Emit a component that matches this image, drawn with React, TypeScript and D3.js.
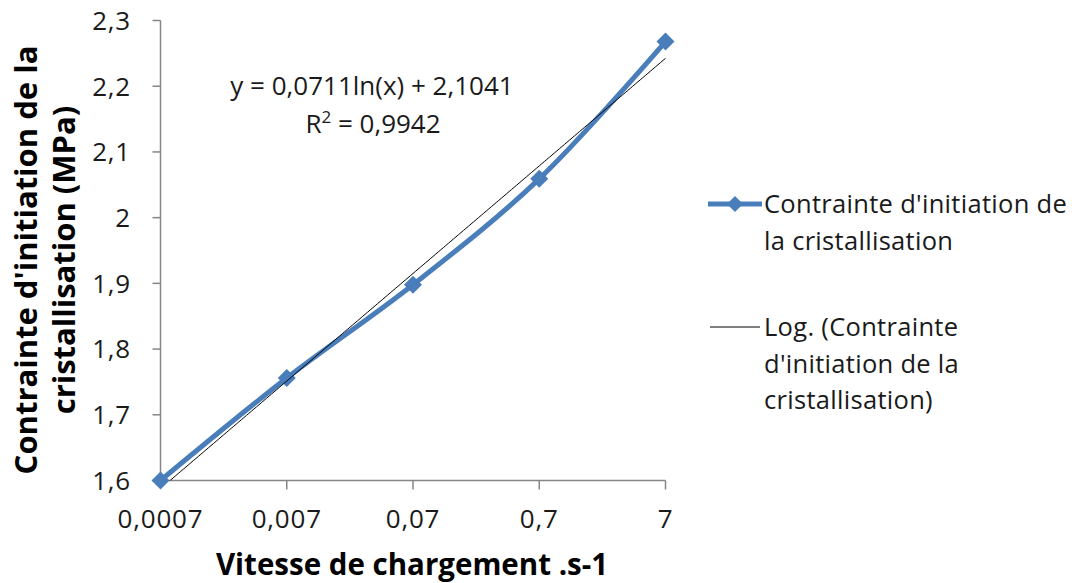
import React from "react";
import * as d3 from "d3";

const xValues = [0.0007, 0.007, 0.07, 0.7, 7];
const yValues = [1.6, 1.756, 1.898, 2.059, 2.268];
const xTicks = [0.0007, 0.007, 0.07, 0.7, 7];
const xTickLabels = ["0,0007", "0,007", "0,07", "0,7", "7"];
const yTicks = [1.6, 1.7, 1.8, 1.9, 2.0, 2.1, 2.2, 2.3];
const yTickLabels = ["1,6", "1,7", "1,8", "1,9", "2", "2,1", "2,2", "2,3"];
const trendA = 0.0711;
const trendB = 2.1041;
const seriesName = ["Contrainte d'initiation de", "la cristallisation"];
const trendName = ["Log. (Contrainte", "d'initiation de la", "cristallisation)"];

const W = 1075, H = 583;
const left = 160.5, right = 665.5, top = 20.5, bottom = 480.5;
const FONT = "'Open Sans', sans-serif";
const BLUE = "#4a7ebb";
const TXT = "#1a1a1a";

export default function App() {
  const x = d3.scaleLog().domain([0.0007, 7]).range([left, right]);
  const y = d3.scaleLinear().domain([1.6, 2.3]).range([bottom, top]);

  const line = d3
    .line<number>()
    .x((_, i) => x(xValues[i]))
    .y((d) => y(d))
    .curve(d3.curveCatmullRom.alpha(0.5));

  const trendPts: [number, number][] = [];
  const n = 200;
  for (let i = 0; i <= n; i++) {
    const lx = Math.log10(0.0007) + (i / n) * (Math.log10(7) - Math.log10(0.0007));
    const xv = Math.pow(10, lx);
    trendPts.push([x(xv), y(trendA * Math.log(xv) + trendB)]);
  }
  const trendPath = d3.line()(trendPts) || "";

  const diamond = (cx: number, cy: number, r: number) =>
    `M${cx},${cy - r}L${cx + r},${cy}L${cx},${cy + r}L${cx - r},${cy}Z`;

  return (
    <svg width={W} height={H} style={{ position: "absolute", left: 0, top: 0, background: "#fff" }}>
      <defs>
        <clipPath id="plot">
          <rect x={left} y={top - 10} width={right - left + 20} height={bottom - top + 10} />
        </clipPath>
      </defs>
      {/* y axis */}
      <line x1={left} x2={left} y1={top} y2={bottom} stroke="#868686" strokeWidth={1.5} />
      {yTicks.map((t, i) => (
        <g key={"yt" + i}>
          <line x1={left - 8} x2={left} y1={y(t)} y2={y(t)} stroke="#868686" strokeWidth={1.5} />
          <text x={131} y={y(t)} dy="0.36em" textAnchor="end" fontFamily={FONT} fontSize={26} letterSpacing={0.8} fill={TXT}>
            {yTickLabels[i]}
          </text>
        </g>
      ))}
      {/* x axis */}
      <line x1={left} x2={right} y1={bottom} y2={bottom} stroke="#868686" strokeWidth={1.5} />
      {xTicks.map((t, i) => (
        <g key={"xt" + i}>
          {i > 0 && <line x1={x(t)} x2={x(t)} y1={bottom} y2={bottom + 9} stroke="#868686" strokeWidth={1.5} />}
          <text x={x(t)} y={bottom + 47} textAnchor="middle" fontFamily={FONT} fontSize={26} letterSpacing={0.8} fill={TXT}>
            {xTickLabels[i]}
          </text>
        </g>
      ))}
      {/* series */}
      <path d={line(yValues) || ""} fill="none" stroke={BLUE} strokeWidth={5} strokeLinejoin="round" />
      {yValues.map((v, i) => (
        <path key={"m" + i} d={diamond(x(xValues[i]), y(v), 9)} fill={BLUE} />
      ))}
      {/* trend */}
      <g clipPath="url(#plot)">
        <path d={trendPath} fill="none" stroke="#000" strokeWidth={1} />
      </g>
      {/* equation */}
      <text x={372} y={95} textAnchor="middle" fontFamily={FONT} fontSize={26} fill={TXT}>
        y = 0,0711ln(x) + 2,1041
      </text>
      <text x={373} y={133} textAnchor="middle" fontFamily={FONT} fontSize={26} fill={TXT}>
        R<tspan dy={-10} fontSize={17}>2</tspan>
        <tspan dy={10}> = 0,9942</tspan>
      </text>
      {/* axis titles */}
      <text x={412} y={575} textAnchor="middle" fontFamily={FONT} fontSize={29.5} fontWeight="bold" fill="#000">
        Vitesse de chargement .s-1
      </text>
      <g transform="translate(37,260) rotate(-90)">
        <text x={0} y={0} textAnchor="middle" fontFamily={FONT} fontSize={31} fontWeight="bold" fill="#000">
          Contrainte d'initiation de la
        </text>
        <text x={0} y={38} textAnchor="middle" fontFamily={FONT} fontSize={31} fontWeight="bold" fill="#000">
          cristallisation (MPa)
        </text>
      </g>
      {/* legend */}
      <line x1={708} x2={762} y1={204} y2={204} stroke={BLUE} strokeWidth={5} />
      <path d={diamond(735, 204, 8)} fill={BLUE} />
      {seriesName.map((s, i) => (
        <text key={"s" + i} x={764} y={204 + i * 37} dy="0.36em" fontFamily={FONT} fontSize={25.5} letterSpacing={0.3} fill={TXT}>
          {s}
        </text>
      ))}
      <line x1={710} x2={760} y1={327} y2={327} stroke="#000" strokeWidth={1} />
      {trendName.map((s, i) => (
        <text key={"t" + i} x={764} y={327 + i * 36.5} dy="0.36em" fontFamily={FONT} fontSize={25.5} letterSpacing={0.3} fill={TXT}>
          {s}
        </text>
      ))}
    </svg>
  );
}
